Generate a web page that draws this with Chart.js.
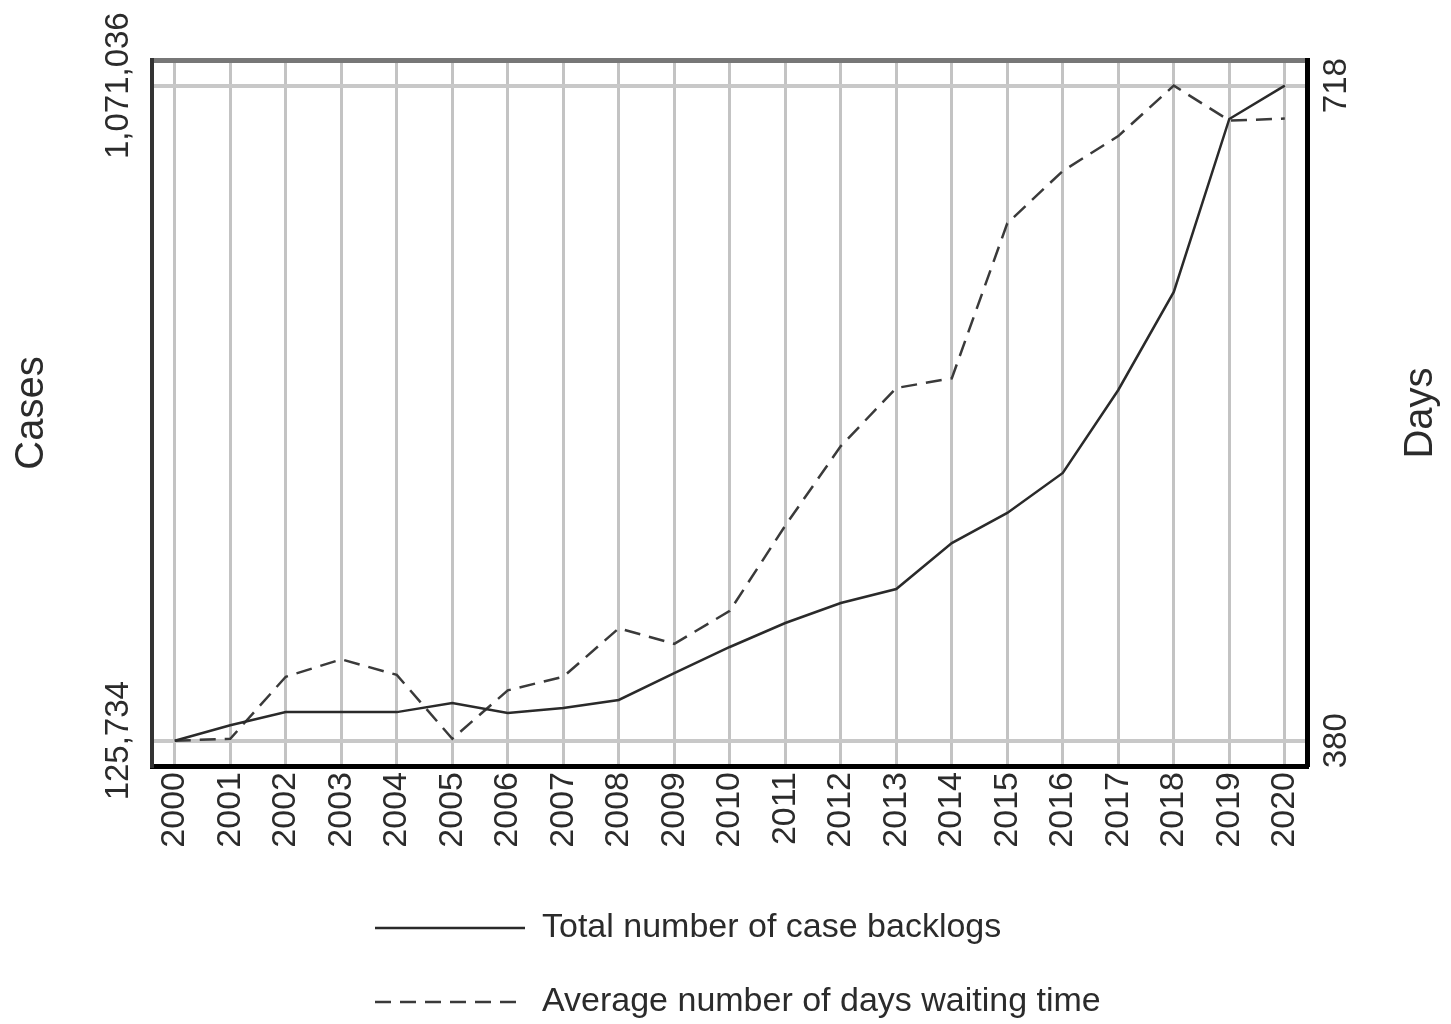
<!DOCTYPE html>
<html lang="en">
<head>
  <meta charset="UTF-8">
  <title>Case backlogs and waiting time</title>
  <script src="https://cdn.jsdelivr.net/npm/chart.js"></script>
  <style>
    html, body { margin: 0; padding: 0; background: #fff; }
  </style>
</head>
<body>
  <canvas id="myChart" width="1451" height="1024"></canvas>

  <script>
    const years = [2000, 2001, 2002, 2003, 2004, 2005, 2006, 2007, 2008, 2009, 2010,
                   2011, 2012, 2013, 2014, 2015, 2016, 2017, 2018, 2019, 2020];
    const caseBacklogs = [125734, 148000, 167000, 167000, 167000, 180000, 165700, 172900, 184500, 223400, 261000,
                          295600, 324500, 344700, 411000, 454400, 512100, 631900, 773300, 1023000, 1071036];
    const waitingDays = [380, 381, 413, 422, 414, 381, 406, 413, 438, 430, 447,
                         491, 532, 562, 567, 647, 674, 692, 718, 700, 701];
    const caseTicks = [125734, 1071036];
    const dayTicks = [380, 718];

    const FONT = '"Liberation Sans", Arial, sans-serif';
    const TEXT = '#2b2b2b';

    // crossAlign 'center' pushes rotated labels off by half the widest label, so take it back in the padding
    const measure = document.createElement('canvas').getContext('2d');
    function halfWidth(text, size) {
      measure.font = size + 'px ' + FONT;
      return measure.measureText(text).width / 2;
    }
    const fmt = v => v.toLocaleString('en-US');

    const caseSpan = caseTicks[1] - caseTicks[0];
    const daySpan = dayTicks[1] - dayTicks[0];

    const daysTitle = {
      id: 'daysTitle',
      afterDraw(chart) {
        const s = chart.scales.y2;
        const ctx = chart.ctx;
        ctx.save();
        ctx.translate(s.right - 30, (chart.chartArea.top + chart.chartArea.bottom) / 2);
        ctx.rotate(-Math.PI / 2);
        ctx.font = '40px ' + FONT;
        ctx.fillStyle = TEXT;
        ctx.textAlign = 'center';
        ctx.textBaseline = 'middle';
        ctx.fillText('Days', 0, 0);
        ctx.restore();
      }
    };

    // stack the legend rows under each other, left aligned
    const placeLegend = {
      id: 'placeLegend',
      beforeDraw(chart) {
        chart.legend.left = 335;
        chart.legend.top = 871;
      }
    };

    new Chart(document.getElementById('myChart'), {
      type: 'line',
      data: {
        datasets: [{
          label: 'Total number of case backlogs',
          data: years.map((yr, i) => ({ x: yr, y: caseBacklogs[i] })),
          yAxisID: 'y',
          borderColor: '#2a2a2a',
          borderWidth: 2.5,
          pointRadius: 0,
          pointStyle: 'line',
          tension: 0
        }, {
          label: 'Average number of days waiting time',
          data: years.map((yr, i) => ({ x: yr, y: waitingDays[i] })),
          yAxisID: 'y2',
          borderColor: '#3a3a3a',
          borderWidth: 2.5,
          borderDash: [16, 9],
          pointRadius: 0,
          pointStyle: 'line',
          tension: 0
        }]
      },
      options: {
        responsive: false,
        animation: false,
        layout: { padding: { top: 60, left: 0, right: 0, bottom: 0 } },
        plugins: {
          tooltip: { enabled: false },
          legend: {
            position: 'bottom',
            align: 'start',
            fullSize: false,
            labels: {
              usePointStyle: true,
              pointStyle: 'line',
              pointStyleWidth: 150,
              padding: 40,
              color: TEXT,
              font: { family: FONT, size: 34 },
              generateLabels: chart => Chart.defaults.plugins.legend.labels.generateLabels(chart).map((item, i) => {
                const ds = chart.data.datasets[i];
                return { ...item, strokeStyle: ds.borderColor, lineWidth: ds.borderWidth, lineDash: ds.borderDash || [] };
              })
            }
          }
        },
        scales: {
          x: {
            type: 'linear',
            position: 'bottom',
            min: years[0] - 0.41,
            max: years[years.length - 1] + 0.4,
            afterBuildTicks: s => { s.ticks = years.map(v => ({ value: v })); },
            afterFit: s => { s.height = 100; },
            grid: { color: '#c3c3c3', lineWidth: 3, drawTicks: false },
            border: { color: '#000', width: 5 },
            ticks: {
              autoSkip: false,
              minRotation: 90,
              maxRotation: 90,
              padding: 6,
              color: TEXT,
              font: { family: FONT, size: 34 },
              callback: v => String(v)
            }
          },
          xTop: {
            type: 'linear',
            position: 'top',
            min: years[0] - 0.41,
            max: years[years.length - 1] + 0.4,
            afterFit: s => { s.height = 0; },
            grid: { display: false },
            ticks: { display: false },
            border: { color: '#777', width: 5 }
          },
          y: {
            type: 'linear',
            position: 'left',
            min: caseTicks[0] - caseSpan * 0.0386,
            max: caseTicks[1] + caseSpan * 0.0392,
            afterBuildTicks: s => { s.ticks = caseTicks.map(v => ({ value: v })); },
            afterFit: s => { s.width = 152; },
            grid: { color: '#c8c8c8', lineWidth: 4, drawTicks: false },
            border: { color: '#333', width: 4 },
            ticks: {
              minRotation: 90,
              maxRotation: 90,
              crossAlign: 'center',
              padding: 33 - halfWidth(fmt(caseTicks[1]), 33),
              color: TEXT,
              font: { family: FONT, size: 33 },
              callback: v => fmt(v)
            },
            title: {
              display: true,
              text: 'Cases',
              color: TEXT,
              font: { family: FONT, size: 40 },
              padding: { top: 8, bottom: 0 }
            }
          },
          y2: {
            type: 'linear',
            position: 'right',
            min: dayTicks[0] - daySpan * 0.0386,
            max: dayTicks[1] + daySpan * 0.0392,
            afterBuildTicks: s => { s.ticks = dayTicks.map(v => ({ value: v })); },
            afterFit: s => { s.width = 144; },
            grid: { drawOnChartArea: false, drawTicks: false },
            border: { color: '#000', width: 5 },
            ticks: {
              minRotation: 90,
              maxRotation: 90,
              crossAlign: 'center',
              padding: 30 - halfWidth(String(dayTicks[1]), 33),
              color: TEXT,
              font: { family: FONT, size: 33 },
              callback: v => String(v)
            }
          }
        }
      },
      plugins: [daysTitle, placeLegend]
    });
  </script>
</body>
</html>
